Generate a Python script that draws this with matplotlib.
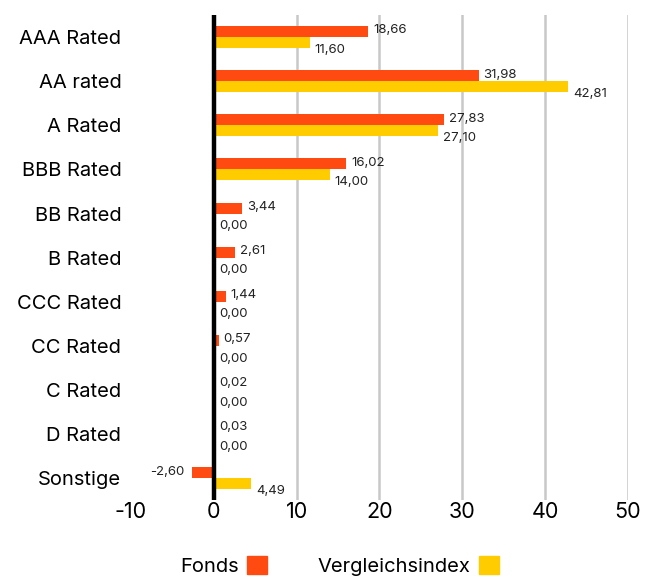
import numpy as np
import matplotlib
matplotlib.use('Agg')
import matplotlib.pyplot as plt
from matplotlib.patches import Patch

categories = ['AAA Rated', 'AA rated', 'A Rated', 'BBB Rated', 'BB Rated', 'B Rated',
              'CCC Rated', 'CC Rated', 'C Rated', 'D Rated', 'Sonstige']
fonds = [18.66, 31.98, 27.83, 16.02, 3.44, 2.61, 1.44, 0.57, 0.02, 0.03, -2.60]
index = [11.60, 42.81, 27.10, 14.00, 0.00, 0.00, 0.00, 0.00, 0.00, 0.00, 4.49]
xticks = [-10, 0, 10, 20, 30, 40, 50]

orange = '#FF4A12'
yellow = '#FFCC00'

plt.rcParams['font.family'] = ['Inter', 'DejaVu Sans']

fig = plt.figure(figsize=(6.53, 5.79), dpi=100)
ax = fig.add_axes([0.2006, 0.136, 0.761, 0.838])

y = np.arange(len(categories))
h = 0.25
ax.barh(y - h / 2, fonds, height=h, color=orange, zorder=3)
ax.barh(y + h / 2, index, height=h, color=yellow, zorder=3)

def fmt(v):
    return f"{v:.2f}".replace('.', ',')

for i in range(len(categories)):
    v = fonds[i]
    if v >= 0:
        ax.text(v + 0.6, y[i] - h * 0.6, fmt(v), ha='left', va='center', fontsize=9.5, color='#222222', zorder=4)
    else:
        ax.text(v - 1.0, y[i] - h * 0.6, fmt(v), ha='right', va='center', fontsize=9.5, color='#222222', zorder=4)
    v = index[i]
    ax.text(v + 0.6, y[i] + h * 1.15, fmt(v), ha='left', va='center', fontsize=9.5, color='#222222', zorder=4)

ax.set_xlim(-10, 50)
ax.set_ylim(len(categories) - 0.5, -0.5)
for g in xticks[2:]:
    ax.axvline(g, color='#c8c8c8', lw=1.8, zorder=1)
ax.axvline(0, color='black', lw=3.2, zorder=5)

ax.set_xticks(xticks)
ax.set_xticklabels([str(t) for t in xticks], fontsize=15.5)
ax.set_yticks(y)
ax.set_yticklabels(categories, fontsize=14.5)
ax.tick_params(axis='y', length=0, pad=7)
ax.tick_params(axis='x', length=0, pad=1)
for s in ax.spines.values():
    s.set_visible(False)

handles = [Patch(color=orange, label='Fonds'), Patch(color=yellow, label='Vergleichsindex')]
fig.legend(handles=handles, loc='center', bbox_to_anchor=(0.52, 0.022), ncol=2, frameon=False,
           markerfirst=False, fontsize=14.5, handlelength=1.0, handleheight=1.0, columnspacing=2.5,
           handletextpad=0.4)

fig.savefig('out.png', dpi=100)
